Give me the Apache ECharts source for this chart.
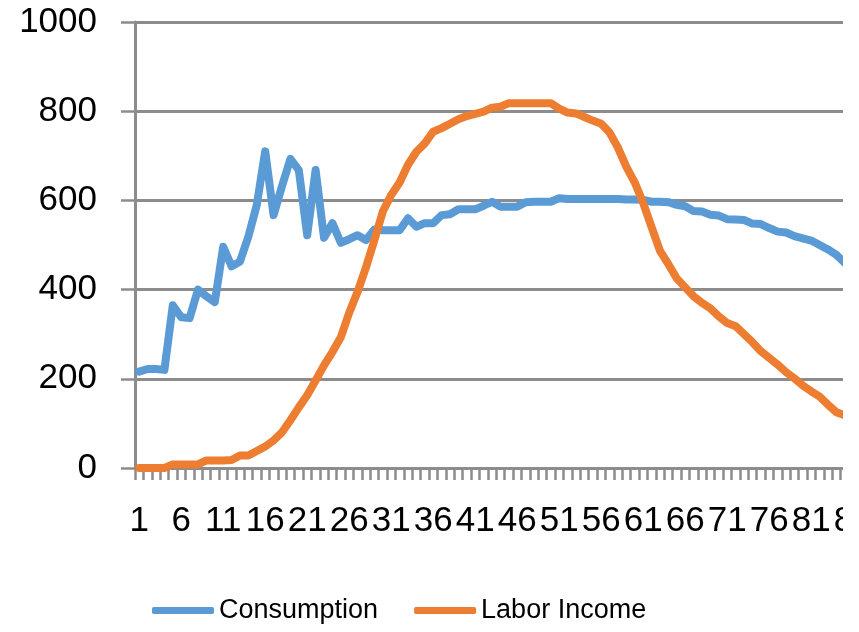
<!DOCTYPE html>
<html>
<head>
<meta charset="utf-8">
<script src="https://cdn.jsdelivr.net/npm/echarts@6/dist/echarts.min.js"></script>
<style>
  html, body { margin: 0; padding: 0; background: #ffffff; }
  #frame { width: 843px; height: 632px; overflow: hidden; position: relative; }
  #chart { width: 900px; height: 632px; position: absolute; left: 0; top: 0; }
</style>
</head>
<body>
<div id="frame"><div id="chart"></div></div>
<script>
// Age index 1..90
const categories = Array.from({ length: 90 }, (_, i) => String(i + 1));

const consumption = [
  216, 222, 222, 220, 365, 338, 336, 400, 385, 372,
  496, 452, 463, 519, 590, 710, 567, 632, 693, 668,
  522, 668, 516, 549, 505, 513, 522, 511, 535, 533,
  533, 533, 560, 541, 549, 549, 567, 569, 580, 580,
  580, 588, 597, 586, 586, 586, 596, 597, 597, 597,
  605, 603, 603, 603, 603, 603, 603, 603, 602, 602,
  601, 597, 597, 596, 590, 587, 576, 575, 568, 566,
  558, 557, 556, 548, 547, 538, 530, 528, 520, 515,
  510, 500, 490, 478, 460, 440, 425, 410, 395, 380
];

const laborIncome = [
  0, 0, 0, 0, 8, 8, 8, 8, 17, 17,
  17, 18, 28, 28, 38, 48, 62, 80, 107, 136,
  163, 196, 230, 260, 293, 348, 395, 450, 511, 575,
  612, 640, 680, 709, 728, 754, 762, 772, 782, 789,
  794, 799, 808, 810, 818, 818, 818, 818, 818, 818,
  806, 797, 795, 787, 779, 772, 752, 718, 675, 640,
  594, 540, 487, 457, 425, 405, 385, 370, 358, 340,
  325, 318, 300, 282, 262, 247, 232, 215, 201, 185,
  172, 160, 142, 125, 118, 105, 95, 85, 75, 65
];

const yTicks = { min: 0, max: 1000, step: 200 };

const FONT = '"Liberation Sans", Arial, sans-serif';
const GRID_GRAY = '#8c8c8c';

const chart = echarts.init(document.getElementById('chart'), null, { renderer: 'canvas' });

chart.setOption({
  animation: false,
  backgroundColor: '#ffffff',
  // plot area runs past the visible frame on the right
  grid: { left: 135, top: 22, bottom: 164, right: 9, containLabel: false },
  legend: {
    left: 152,
    top: 597,
    padding: 0,
    itemGap: 36,
    itemWidth: 62,
    itemHeight: 7,
    icon: 'roundRect',
    textStyle: { fontFamily: FONT, fontSize: 27, color: '#000000' },
    data: ['Consumption', 'Labor Income']
  },
  xAxis: {
    type: 'category',
    data: categories,
    boundaryGap: true,
    axisLine: { lineStyle: { color: GRID_GRAY, width: 3 } },
    axisTick: { show: true, interval: 0, length: 12, lineStyle: { color: GRID_GRAY, width: 2.5 } },
    axisLabel: { interval: 4, margin: 36, fontFamily: FONT, fontSize: 35, color: '#000000' },
    splitLine: { show: false }
  },
  yAxis: {
    type: 'value',
    min: yTicks.min,
    max: yTicks.max,
    interval: yTicks.step,
    axisLine: { show: true, lineStyle: { color: GRID_GRAY, width: 3 } },
    axisTick: { show: true, length: 14, lineStyle: { color: GRID_GRAY, width: 2.5 } },
    axisLabel: {
      margin: 38, fontFamily: FONT, fontSize: 35, color: '#000000',
      formatter: (v) => String(v)
    },
    splitLine: { show: true, lineStyle: { color: GRID_GRAY, width: 3 } }
  },
  series: [
    {
      name: 'Consumption',
      type: 'line',
      data: consumption,
      symbol: 'none',
      itemStyle: { color: '#5B9BD5' },
      lineStyle: { color: '#5B9BD5', width: 8, cap: 'round', join: 'round' }
    },
    {
      name: 'Labor Income',
      type: 'line',
      data: laborIncome,
      symbol: 'none',
      itemStyle: { color: '#ED7D31' },
      lineStyle: { color: '#ED7D31', width: 8, cap: 'round', join: 'round' }
    }
  ]
});
</script>
</body>
</html>
